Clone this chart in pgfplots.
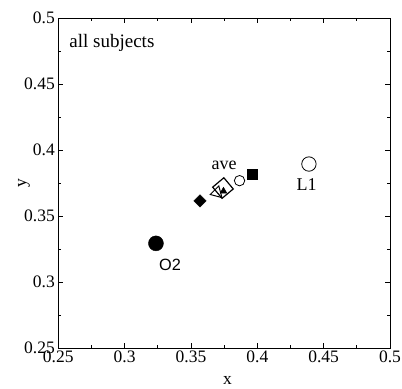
\documentclass[border=0pt]{standalone}
\usepackage{fontspec}
\setmainfont{Liberation Serif}
\newfontfamily\sansf{Liberation Sans}
\usepackage{pgfplots}
\pgfplotsset{compat=1.18}
\begin{document}
\fontsize{17.5bp}{20bp}\selectfont
\begin{tikzpicture}
\path[use as bounding box] (-58.3bp,-40.7bp) rectangle (343.7bp,348.3bp);
\begin{axis}[
  scale only axis,
  width=331.7bp, height=330bp,
  xmin=0.25, xmax=0.5, ymin=0.25, ymax=0.5,
  xtick={0.25,0.3,...,0.5}, ytick={0.25,0.3,...,0.5},
  minor tick num=1,
  major tick length=5bp, minor tick length=3bp,
  tick align=inside,
  axis line style={line width=0.9bp},
  every tick/.style={black, line width=0.7bp},
  /pgf/number format/assume math mode=true,
  xticklabel style={anchor=north, inner sep=0pt, yshift=-2.4bp},
  yticklabel style={anchor=east, inner sep=0pt, xshift=-3.3bp},
  xlabel={x}, ylabel={y},
  every axis x label/.style={at={(axis description cs:0.51,-0.111)}, anchor=base},
  every axis y label/.style={at={(axis description cs:-0.097,0.5)}, anchor=base, rotate=90},
  clip=false,
]
% O2
\addplot[only marks, mark=*, mark size=7.5bp, mark options={fill=black, draw=black}] coordinates {(0.3236,0.3295)};
% L1
\addplot[only marks, mark=o, mark size=7.2bp, mark options={draw=black, line width=0.8bp}] coordinates {(0.4389,0.3896)};
% filled diamond
\addplot[only marks, mark=square*, mark size=4.4bp, mark options={fill=black, draw=black, rotate=45}] coordinates {(0.3568,0.3616)};
% filled square
\addplot[only marks, mark=square*, mark size=5bp, mark options={fill=black, draw=black}] coordinates {(0.3958,0.3820)};
% small open circle
\addplot[only marks, mark=o, mark size=5.2bp, mark options={draw=black, line width=0.8bp}] coordinates {(0.3866,0.3770)};
% open triangle
\addplot[only marks, mark=triangle, mark size=7bp, mark options={draw=black, line width=1bp, rotate=-15}] coordinates {(0.3696,0.3679)};
% small filled triangle
\addplot[only marks, mark=triangle*, mark size=4bp, mark options={fill=black, draw=black}] coordinates {(0.3745,0.3690)};
% open diamond (ave)
\addplot[only marks, mark=square, mark size=7.3bp, mark options={draw=black, line width=1.2bp, rotate=40}] coordinates {(0.3741,0.3714)};
\node[anchor=base west, inner sep=0pt, font=\fontsize{19bp}{22bp}\selectfont] at (rel axis cs:0.033,0.913) {all subjects};
\node[anchor=base, inner sep=0pt, font=\fontsize{18bp}{21bp}\selectfont] at (axis cs:0.3749,0.3851) {ave};
\node[anchor=base, inner sep=0pt, font=\sansf\fontsize{16.3bp}{18bp}\selectfont] at (axis cs:0.3342,0.3093) {O2};
\node[anchor=base, inner sep=0pt, font=\fontsize{18bp}{21bp}\selectfont] at (axis cs:0.4372,0.3699) {L1};
\end{axis}
\end{tikzpicture}
\end{document}
